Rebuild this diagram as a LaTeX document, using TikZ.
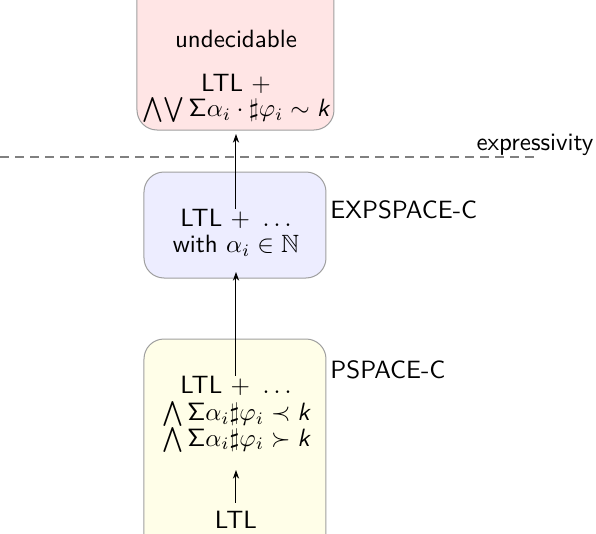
\documentclass[tikz,border=0pt]{standalone}
\usepackage{amssymb}
\usetikzlibrary{arrows.meta}
\newcommand{\skk}{\mbox{\sffamily\slshape k}}
\newcommand{\sSig}{\mathsf{\Sigma}}
\begin{document}
\begin{tikzpicture}[x=0.4pt,y=-0.4pt,
  every node/.style={font=\sffamily, inner sep=0pt},
  classbox/.style={draw=gray!75, rounded corners=8pt, line width=0.4pt},
  lbl/.style={font=\sffamily},
  up/.style={-{Stealth[length=3.5pt,width=2.5pt]}, line width=0.4pt, black},
  sep/.style={dashed, gray, line width=0.5pt, dash pattern=on 3.4pt off 2.6pt}]
\useasboundingbox (0,0) rectangle (596,534);
\begin{scope}
\clip (0,0) rectangle (596,534);
\draw[classbox, fill=red!10] (137,-40) rectangle (334,130);
\draw[classbox, fill=blue!7] (144,172) rectangle (326,278);
\draw[classbox, fill=yellow!9] (144,339) rectangle (326,580);
\end{scope}
% top box
\node (undec) at (236,39) {undecidable};
\node (t1) at (236,84) {LTL $+$};
\node (t2) at (236,110) {$\bigwedge\!\bigvee \sSig\alpha_i\cdot\sharp\varphi_i\sim\skk$};
% middle box
\node (m1) at (236,219) {LTL $+\ \ldots$};
\node (m2) at (236,246) {with $\alpha_i\in\mathbb{N}$};
% bottom box
\node (b1) at (236,386) {LTL $+\ \ldots$};
\node (b2) at (236,414) {$\bigwedge\sSig\alpha_i\sharp\varphi_i\prec\skk$};
\node (b3) at (236,440) {$\bigwedge\sSig\alpha_i\sharp\varphi_i\succ\skk$};
\node (ltl) at (236,520) {LTL};
% labels
\node[lbl, anchor=west] (exps) at (330,210) {EXPSPACE-C};
\node[lbl, anchor=west] (pspc) at (330,370) {PSPACE-C};
\node[lbl, anchor=east] (expr) at (594,145) {expressivity};
% separator
\coordinate (dl) at (0,157);
\coordinate (dr) at (540,157);
\draw[sep] (dl) -- (dr);
% arrows
\coordinate (tip1) at (236,470);
\coordinate (tip2) at (236,272);
\coordinate (tip3) at (236,134);
\draw[up] (ltl.north) ++(0,-8) coordinate (s1) (s1) -- (tip1);
\draw[up] (b1.north) -- (tip2);
\draw[up] (m1.north) -- (tip3);
\end{tikzpicture}
\end{document}
